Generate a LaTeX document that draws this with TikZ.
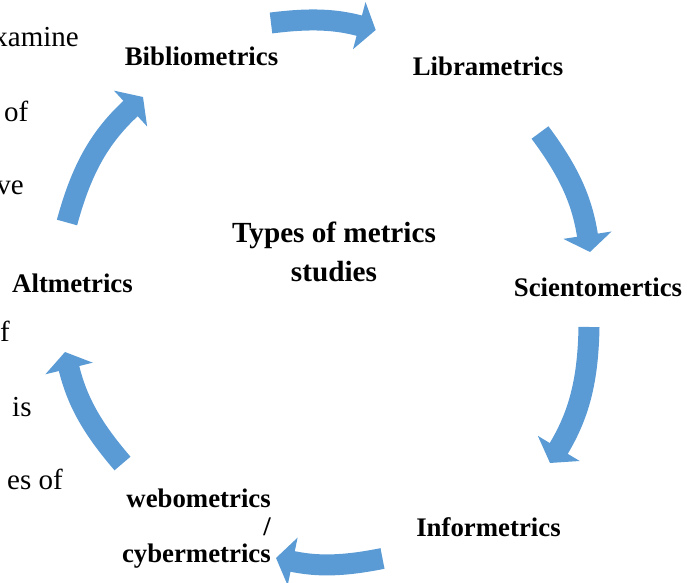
\documentclass[tikz,border=0pt]{standalone}
\usepackage{fontspec}
\setmainfont{Liberation Serif}
\usetikzlibrary{arrows.meta,positioning}
\definecolor{cycleblue}{RGB}{91,155,213}

\begin{document}
\begin{tikzpicture}[x=1pt, y=1pt, inner sep=0pt,
	every node/.style={font=\fontsize{26.8}{27.5}\selectfont\bfseries},
	hub/.style={font=\fontsize{29.2}{39}\selectfont\bfseries, align=center},
	behind/.style={font=\fontsize{29}{30}\selectfont},
	cyc/.style={draw=cycleblue, line width=21pt, -{Triangle[length=17pt, width=48pt]}, cycleblue}]
	\useasboundingbox (0,0) rectangle (697,583);

	% text of the page behind the diagram
	\node[behind, anchor=base east] (t1) at (79,536) {xamine};
	\node[behind, anchor=base west] (t2) at (4,461) {of};
	\node[behind, anchor=base east] (t3) at (24,388) {ve};
	\node[behind, anchor=base west] (t4) at (0,241) {f};
	\node[behind, anchor=base west] (t5) at (12,166) {is};
	\node[behind, anchor=base east] (t6) at (63,93) {es of};

	% the cycle
	\node[hub, anchor=base] (0) at (334,301) {Types of metrics\\studies};
	\node[anchor=base] (1) at (201.5,517) {Bibliometrics};
	\node[anchor=base] (2) at (488,507) {Librametrics};
	\node[anchor=base] (3) at (598,286) {Scientomertics};
	\node[anchor=base] (4) at (488.5,46) {Informetrics};
	\node[align=right, anchor=base east] (5) at (271,20) {webometrics\\/\\cybermetrics};
	\node[anchor=base] (6) at (72.5,290) {Altmetrics};

	\coordinate (a1) at (271,560);   \coordinate (b1) at (375.7,553);
	\coordinate (a2) at (540,450.5); \coordinate (b2) at (590,331);
	\coordinate (a3) at (589,256);   \coordinate (b3) at (550,120);
	\coordinate (a4) at (382.5,24.5);\coordinate (b4) at (276,25);
	\coordinate (a5) at (122.5,119.5);\coordinate (b5) at (65,231);
	\coordinate (a6) at (67,360.5);  \coordinate (b6) at (143,486);

	\path
		(a1) edge [cyc, bend left=11] (b1)
		(a2) edge [cyc, bend left=14] (b2)
		(a3) edge [cyc, bend left=15] (b3)
		(a4) edge [cyc, bend left=11.5] (b4)
		(a5) edge [cyc, bend left=13.5] (b5)
		(a6) edge [cyc, bend left=16] (b6);
\end{tikzpicture}
\end{document}
